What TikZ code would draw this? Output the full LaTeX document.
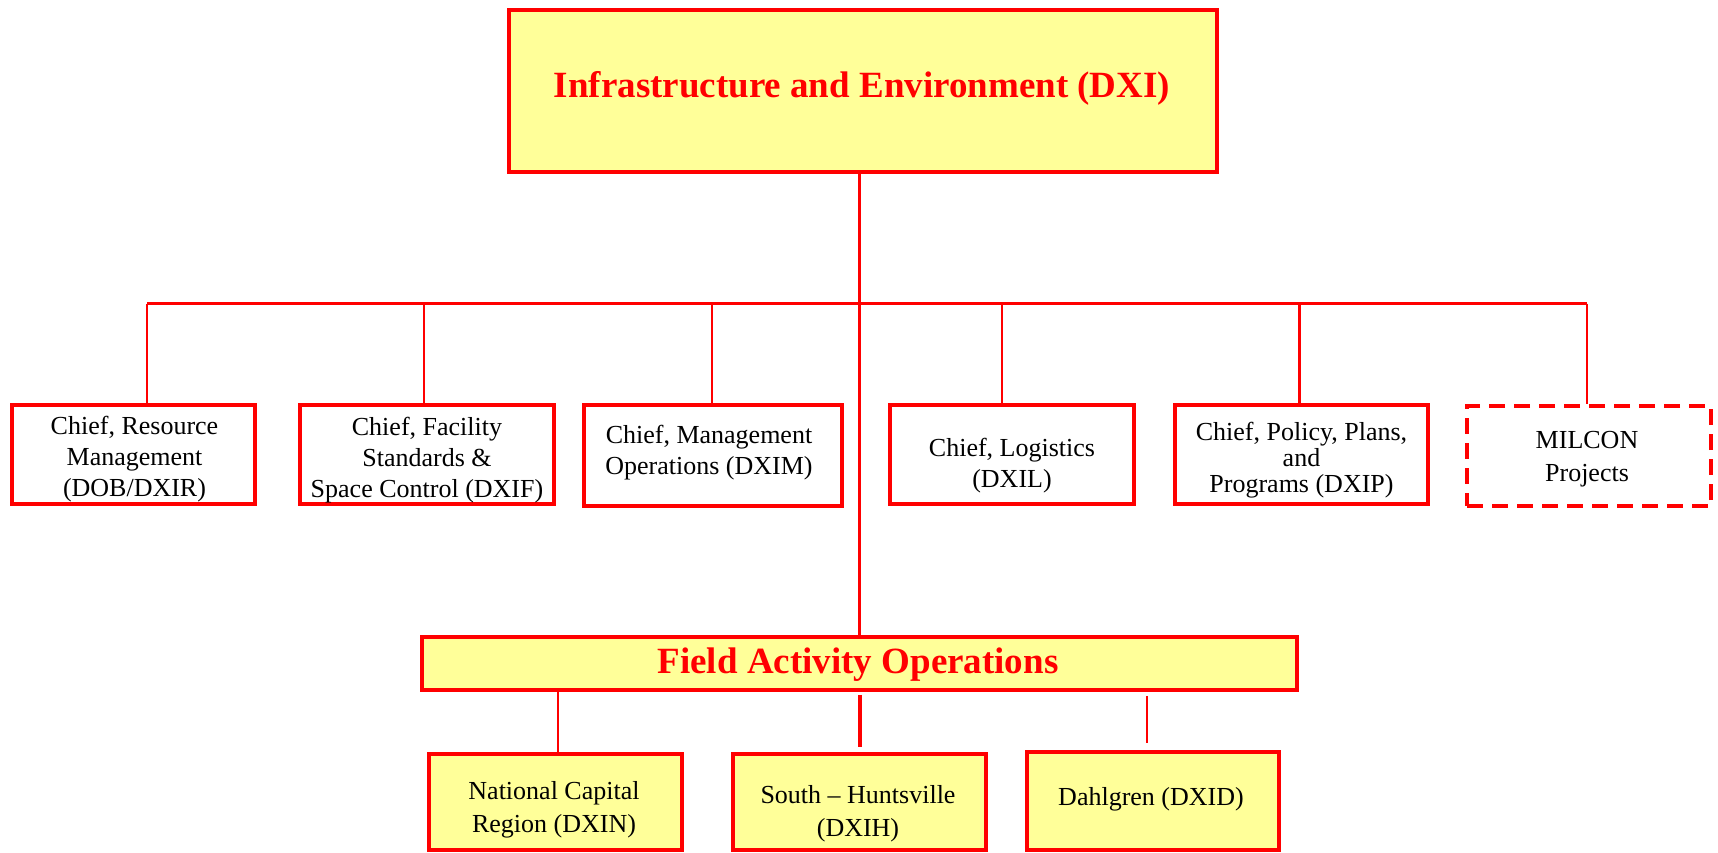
\documentclass[tikz,border=0pt]{standalone}
\usepackage{fontspec}
\setmainfont{Liberation Serif}
\definecolor{orgred}{RGB}{255,0,0}
\definecolor{orgyel}{RGB}{255,255,153}
\tikzset{
  box/.style={draw=orgred, line width=3.8pt, inner sep=0pt},
  ybox/.style={box, fill=orgyel},
  dbox/.style={box, dash pattern=on 16pt off 9pt},
  txt/.style={align=center, inner sep=0pt, text=black, font=\fontsize{26}{31}\selectfont},
  ttl/.style={inner sep=0pt, text=orgred, font=\fontsize{37}{44}\selectfont\bfseries},
  conn/.style={draw=orgred, line width=2.8pt}
}
\begin{document}
\begin{tikzpicture}[x=1pt,y=-1pt]
\useasboundingbox[fill=white] (0,0) rectangle (1718,853);
% top
\node[ybox, line width=4.5pt, minimum width=708pt, minimum height=162pt] (top) at (863,91) {};
\node[ttl] (toptxt) at (862,88) {Infrastructure and Environment (DXI)};
% row boxes
\node[box, minimum width=243pt, minimum height=99pt] (b1) at (133.5,454.5) {};
\node[box, minimum width=254pt, minimum height=99pt] (b2) at (427,454.5) {};
\node[box, minimum width=258pt, minimum height=101pt] (b3) at (712.75,455.5) {};
\node[box, minimum width=244pt, minimum height=99pt] (b4) at (1012,454.5) {};
\node[box, minimum width=253pt, minimum height=99pt] (b5) at (1301.5,454.5) {};
\node[dbox, minimum width=244pt, minimum height=100pt] (b6) at (1589,456) {};
\node[txt] (t1) at (134.5,459) {Chief, Resource\\Management\\(DOB/DXIR)};
\node[txt] (t2) at (427,460) {Chief, Facility\\Standards \&\\Space Control (DXIF)};
\node[txt] (t3) at (709,453) {Chief, Management\\Operations (DXIM)};
\node[txt] (t4) at (1012,466) {Chief, Logistics\\(DXIL)};
\node[txt, font=\fontsize{26}{26}\selectfont] (t5) at (1301.5,460) {Chief, Policy, Plans,\\and\\Programs (DXIP)};
\node[txt, font=\fontsize{26}{33}\selectfont] (t6) at (1587,459) {MILCON\\Projects};
% field
\node[ybox, minimum width=875pt, minimum height=53pt] (field) at (859.5,663.5) {};
\node[ttl] (fieldtxt) at (858,665) {Field Activity Operations};
% bottom boxes
\node[ybox, minimum width=253pt, minimum height=96pt] (b7) at (555.5,802) {};
\node[ybox, minimum width=253pt, minimum height=96pt] (b8) at (859.5,802) {};
\node[ybox, minimum width=252pt, minimum height=98pt] (b9) at (1153,801) {};
\node[txt, font=\fontsize{26}{33}\selectfont] (t7) at (554,810) {National Capital\\Region (DXIN)};
\node[txt, font=\fontsize{26}{33}\selectfont] (t8) at (858,814) {South -- Huntsville\\(DXIH)};
\node[txt] (t9) at (1151,799) {Dahlgren (DXID)};
% connectors
\draw[conn] (field.north) -- (field.north |- top.south);
\coordinate (j1) at (147,303.5);
\coordinate (j2) at (424,303.5);
\coordinate (j3) at (712,303.5);
\coordinate (j4) at (1002,303.5);
\coordinate (j5) at (1299.5,303.5);
\coordinate (j6) at (1587,303.5);
\draw[conn] (j1) -- (j6);
\draw[conn] (j1) -- (j1 |- b1.north);
\draw[conn] (j2) -- (j2 |- b2.north);
\draw[conn] (j3) -- (j3 |- b3.north);
\draw[conn] (j4) -- (j4 |- b4.north);
\draw[conn] (j5) -- (j5 |- b5.north);
\draw[conn] (j6) -- (j6 |- b6.north);
\coordinate (k1) at (558,0);
\coordinate (k2) at (860,0);
\coordinate (k3) at (1147,0);
\draw[conn] (k1 |- field.south) -- (k1 |- b7.north);
\draw[conn, line width=3.8pt, shorten <=3pt, shorten >=5pt] (k2 |- field.south) -- (k2 |- b8.north);
\draw[conn, shorten <=4pt, shorten >=7pt] (k3 |- field.south) -- (k3 |- b9.north);
\end{tikzpicture}
\end{document}
